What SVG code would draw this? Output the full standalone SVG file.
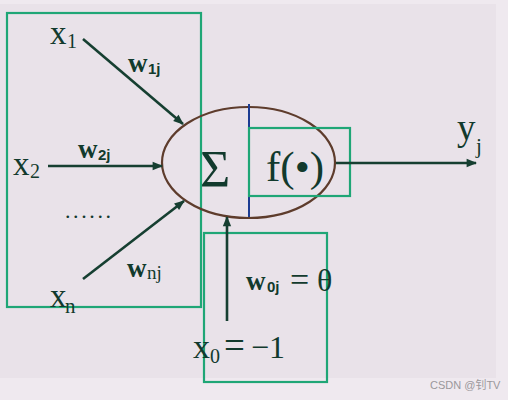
<svg xmlns="http://www.w3.org/2000/svg" width="508" height="400" viewBox="0 0 508 400">
<defs>
<style>
.box{fill:none;stroke:#1fa676;stroke-width:2.2}
.conn{stroke:#163f31;stroke-width:2.6;fill:none}
.serif{font-family:"Liberation Serif","Times New Roman",serif;fill:#123a2d}
.sub{font-family:"Liberation Sans",Arial,sans-serif;fill:#123a2d;font-weight:bold}
.wm{font-family:"Liberation Sans","Noto Sans CJK SC",sans-serif;fill:#9a979b;font-size:11px}
</style>
<marker id="ah" viewBox="0 0 10 10" refX="9" refY="5" markerWidth="4.5" markerHeight="4" orient="auto" markerUnits="strokeWidth">
<path d="M0,1 L10,5 L0,9 z" fill="#163f31"/>
</marker>
</defs>
<rect x="0" y="0" width="508" height="400" fill="#efe9ef"/>
<rect x="0" y="4" width="496" height="374" fill="#e9e2e9"/>

<g id="inputs">
<rect class="box" x="7" y="13" width="194" height="294"/>
<text class="serif" x="50" y="44" font-size="33">x</text>
<text class="serif" x="67" y="48" font-size="20">1</text>
<text class="serif" x="13" y="175" font-size="33">x</text>
<text class="serif" x="30" y="178" font-size="20">2</text>
<text class="serif" x="65" y="218" font-size="22" letter-spacing="2.6">......</text>
<text class="serif" x="50" y="307" font-size="33">x</text>
<text class="serif" x="65" y="313" font-size="21">n</text>
<text class="serif" x="128" y="72" font-size="27" font-weight="bold">w</text>
<text class="sub" x="148" y="74" font-size="15">1j</text>
<text class="serif" x="78" y="158" font-size="27" font-weight="bold">w</text>
<text class="sub" x="98" y="160" font-size="15">2j</text>
<text class="serif" x="127" y="277" font-size="27" font-weight="bold">w</text>
<text class="serif" x="147" y="279" font-size="19">nj</text>
</g>

<g id="neuron">
<ellipse cx="248.5" cy="162.5" rx="86.5" ry="55.5" fill="none" stroke="#5e3c2c" stroke-width="2.2"/>
<line x1="249" y1="104" x2="249" y2="217" stroke="#1c3c92" stroke-width="2"/>
<text class="serif" x="200" y="187" font-size="52">Σ</text>
</g>

<g id="activation">
<rect class="box" x="249" y="128" width="101" height="68"/>
<text class="serif" x="266" y="181" font-size="43">f(•)</text>
</g>

<g id="bias">
<rect class="box" x="204" y="233" width="123" height="149"/>
<text class="serif" x="246" y="290" font-size="27" font-weight="bold">w</text>
<text class="sub" x="267" y="292" font-size="15">0j</text>
<text class="serif" x="290" y="291" font-size="34">=</text>
<text class="serif" x="317" y="291" font-size="32">θ</text>
<text class="serif" x="193" y="358" font-size="34">x</text>
<text class="serif" x="210" y="363" font-size="20">0</text>
<text class="serif" x="224" y="358" font-size="37">=</text>
<text class="serif" x="251" y="358" font-size="32">−1</text>
</g>

<g id="output">
<text class="serif" x="457" y="140" font-size="37">y</text>
<text class="serif" x="476" y="153" font-size="21">j</text>
</g>

<g id="connectors">
<line class="conn" x1="83" y1="39" x2="183" y2="124" marker-end="url(#ah)"/>
<line class="conn" x1="48" y1="166" x2="162" y2="166" marker-end="url(#ah)"/>
<line class="conn" x1="83" y1="279" x2="184" y2="201" marker-end="url(#ah)"/>
<line class="conn" x1="227" y1="321" x2="227" y2="217" marker-end="url(#ah)"/>
<line class="conn" x1="336" y1="163" x2="476" y2="163" marker-end="url(#ah)"/>
</g>

<text class="wm" x="430" y="389">CSDN @钊TV</text>
</svg>
